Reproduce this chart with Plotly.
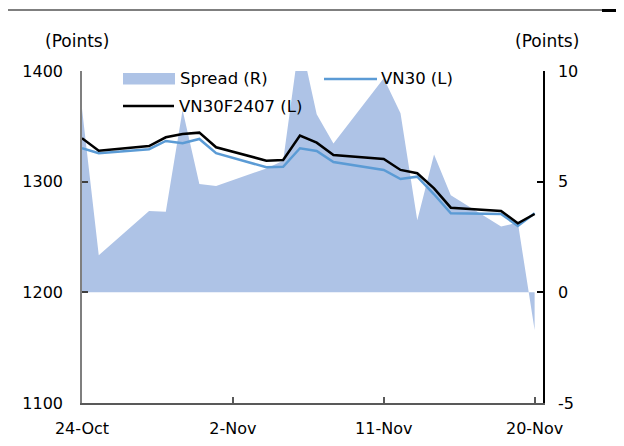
import plotly.graph_objects as go

dates = ["2024-10-24", "2024-10-25", "2024-10-28", "2024-10-29", "2024-10-30", "2024-10-31",
         "2024-11-01", "2024-11-04", "2024-11-05", "2024-11-06", "2024-11-07", "2024-11-08",
         "2024-11-11", "2024-11-12", "2024-11-13", "2024-11-14", "2024-11-15", "2024-11-18",
         "2024-11-19", "2024-11-20"]
vn30f2407 = [1339.2, 1328.0, 1332.2, 1340.1, 1343.1, 1344.3, 1331.1, 1319.0, 1319.6, 1341.6,
             1335.2, 1324.1, 1320.5, 1310.6, 1307.6, 1294.0, 1276.5, 1273.5, 1262.4, 1270.8]
vn30 = [1330.2, 1325.7, 1329.3, 1336.8, 1334.7, 1338.6, 1325.7, 1313.0, 1313.5, 1330.2,
        1327.7, 1317.8, 1310.6, 1302.4, 1304.5, 1288.6, 1271.5, 1270.8, 1260.0, 1271.5]
spread = [8.3, 1.67, 3.68, 3.64, 8.24, 4.89, 4.8, 5.6, 5.95, 11.5,
          8.05, 6.73, 9.67, 8.09, 3.26, 6.23, 4.39, 2.97, 3.15, -1.7]

x_tickvals = ["2024-10-24", "2024-11-02", "2024-11-11", "2024-11-20"]
left_ticks = [1100, 1200, 1300, 1400]
right_ticks = [-5, 0, 5, 10]
right_ticktext = ["-5", "0", "5", "10"]
legend_names = ["Spread (R)", "VN30 (L)", "VN30F2407 (L)"]

AREA = "#aec3e6"
BLUE = "#5b9bd5"
FONT = "DejaVu Sans"
FS = 16
FS_LEG = 16.5
FS_TITLE = 17

# page geometry (body has default 8px margin)
OFF = 8
PAGE_W, PAGE_H = 624, 446
PL, PR, PT, PB = 82, 543, 71, 403
W, H = PAGE_W - OFF, PAGE_H - OFF
L, T = PL - OFF, PT - OFF
R, B = W - (PR - OFF), H - (PB - OFF)


def px(x):
    return (x - PL) / (PR - PL)


def py(y):
    return (PB - y) / (PB - PT)


fig = go.Figure()
# spread on primary (right side) axis so price lines overlay it
fig.add_trace(go.Scatter(x=dates, y=spread, name=legend_names[0], yaxis="y",
                         mode="lines", line=dict(width=0, color=AREA),
                         fill="tozeroy", fillcolor=AREA, showlegend=False))
fig.add_trace(go.Scatter(x=dates, y=vn30, name=legend_names[1], yaxis="y2", mode="lines",
                         line=dict(width=2.5, color=BLUE), showlegend=False))
fig.add_trace(go.Scatter(x=dates, y=vn30f2407, name=legend_names[2], yaxis="y2", mode="lines",
                         line=dict(width=2.5, color="black"), showlegend=False))

shapes = [
    # top rule
    dict(type="line", xref="paper", yref="paper", x0=px(5), x1=px(602), y0=py(10), y1=py(10),
         line=dict(color="black", width=1.2)),
    dict(type="line", xref="paper", yref="paper", x0=px(602), x1=px(624), y0=py(10.5), y1=py(10.5),
         line=dict(color="black", width=3)),
    # legend swatches
    dict(type="rect", xref="paper", yref="paper", x0=px(123), x1=px(175), y0=py(73), y1=py(84.5),
         fillcolor=AREA, line=dict(width=0), layer="above"),
    dict(type="line", xref="paper", yref="paper", x0=px(324), x1=px(377), y0=py(79), y1=py(79),
         line=dict(color=BLUE, width=2.5), layer="above"),
    dict(type="line", xref="paper", yref="paper", x0=px(123), x1=px(174), y0=py(106), y1=py(106),
         line=dict(color="black", width=2.5), layer="above"),
]

annotations = [
    dict(text="(Points)", xref="paper", yref="paper", x=px(76.5), y=py(41), showarrow=False,
         xanchor="center", yanchor="middle", font=dict(family=FONT, size=FS_TITLE, color="black")),
    dict(text="(Points)", xref="paper", yref="paper", x=px(547), y=py(41), showarrow=False,
         xanchor="center", yanchor="middle", font=dict(family=FONT, size=FS_TITLE, color="black")),
    dict(text=legend_names[0], xref="paper", yref="paper", x=px(178), y=py(78), showarrow=False,
         xanchor="left", yanchor="middle", font=dict(family=FONT, size=FS_LEG, color="black")),
    dict(text=legend_names[1], xref="paper", yref="paper", x=px(379), y=py(78), showarrow=False,
         xanchor="left", yanchor="middle", font=dict(family=FONT, size=FS_LEG, color="black")),
    dict(text=legend_names[2], xref="paper", yref="paper", x=px(177), y=py(106), showarrow=False,
         xanchor="left", yanchor="middle", font=dict(family=FONT, size=FS_LEG, color="black")),
]

fig.update_layout(
    width=W, height=H, autosize=False,
    margin=dict(l=L, r=R, t=T, b=B, pad=0, autoexpand=False),
    paper_bgcolor="white", plot_bgcolor="white",
    font=dict(family=FONT, size=FS, color="black"),
    showlegend=False,
    shapes=shapes, annotations=annotations,
    xaxis=dict(type="date", range=["2024-10-24", "2024-11-20 12:00"],
               tickvals=x_tickvals, tickformat="%-d-%b", automargin=False,
               showgrid=False, zeroline=False, showline=True, linecolor="#595959", linewidth=1.5,
               ticks="inside", ticklen=6, tickwidth=1.5, tickcolor="#595959",
               ticklabelstandoff=10,
               tickfont=dict(family=FONT, size=FS, color="black")),
    yaxis=dict(range=[-5, 10], tickvals=right_ticks, ticktext=right_ticktext,
               side="right", automargin=False,
               showgrid=False, zeroline=False, showline=True, linecolor="black", linewidth=1.5,
               ticks="inside", ticklen=6, tickwidth=1.5, tickcolor="black",
               ticklabelstandoff=10,
               tickfont=dict(family=FONT, size=FS, color="black")),
    yaxis2=dict(range=[1100, 1400], tickvals=left_ticks, side="left", overlaying="y",
                automargin=False,
                showgrid=False, zeroline=False, showline=True, linecolor="#7f7f7f", linewidth=1.5,
                ticks="inside", ticklen=6, tickwidth=1.5, tickcolor="#404040",
                ticklabelstandoff=14,
                tickfont=dict(family=FONT, size=FS, color="black")),
)

fig.write_html("out.html", config={"displayModeBar": False})
